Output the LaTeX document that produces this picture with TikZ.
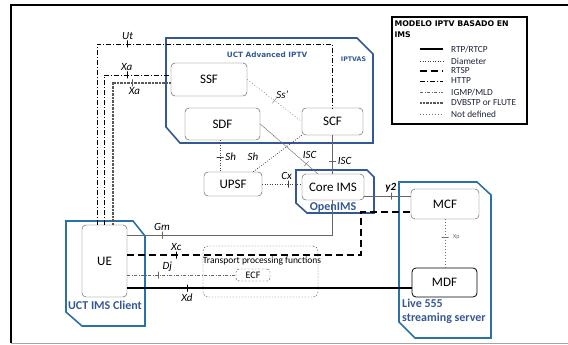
\documentclass[tikz,border=0pt]{standalone}
\usepackage{fontspec}
\setmainfont{Carlito}
\newfontfamily\titulo{DejaVu Sans}
\usetikzlibrary{positioning}

\definecolor{azulims}{RGB}{52,88,150}
\definecolor{textoley}{RGB}{30,35,60}

\begin{document}
\begin{tikzpicture}[x=1pt, y=-1pt,
      caja/.style={draw=black!70, rounded corners=4pt, inner sep=0pt,
                   font=\fontsize{13}{14}\selectfont},
      grupo/.style={draw=azulims, line width=1.6pt, line join=miter},
      rotulo/.style={text=azulims, inner sep=0pt, align=left,
                     font=\fontsize{12}{14}\selectfont\bfseries},
      lab/.style={inner sep=1pt, font=\fontsize{11}{12}\selectfont\itshape},
      marca/.style={draw, solid, thin, inner sep=0pt, minimum width=0pt, minimum height=7pt},
      marcah/.style={draw, solid, thin, inner sep=0pt, minimum width=7pt, minimum height=0pt},
      rtp/.style={line width=1.1pt},
      sip/.style={draw=black!60, semithick},
      diameter/.style={draw=black!75, semithick, dash pattern=on 1pt off 1.5pt},
      rtsp/.style={line width=1.5pt, dash pattern=on 7pt off 4pt},
      http/.style={semithick, dash pattern=on 5pt off 2pt on 1pt off 2pt},
      igmp/.style={draw=black!60, thin, dash pattern=on 3pt off 1.5pt on 1pt off 1.5pt},
      dvbstp/.style={draw=black!65, line width=1.1pt, dash pattern=on .7pt off .7pt},
      nodef/.style={draw=black!55, thin, dash pattern=on 1pt off 2pt}]
    \useasboundingbox (0,0) rectangle (568,345);
    % marco
    \draw[black!35] (11,343) -- (568,343);
    \draw[line width=1.4pt] (11,343) -- (11,5) -- (568,5);

    % leyenda
    \node[draw, line width=1.3pt, minimum width=135pt, minimum height=107pt, inner sep=0pt]
      (leyenda) at (459.5,70.5) {};
    \node[anchor=north west, align=left, inner sep=0pt,
          font=\titulo\bfseries\fontsize{7.8}{11.5}\selectfont]
      (tituloley) at ([xshift=3pt,yshift=-4pt]leyenda.north west) {MODELO IPTV BASADO EN\\IMS};
    \foreach \estilo/\texto/\y in {rtp/{RTP/RTCP}/49, diameter/Diameter/61, rtsp/RTSP/71,
        http/HTTP/81, igmp/{IGMP/MLD}/92, dvbstp/DVBSTP or FLUTE/103, nodef/Not defined/114} {
      \draw[\estilo] (420,\y) -- (443,\y);
      \node[anchor=west, inner sep=0pt, text=textoley, font=\fontsize{9.3}{10}\selectfont]
        (ley\y) at (451,\y) {\texto};
    }

    % grupos
    \draw[grupo] (166,38) -- (357,38) -- (373,54) -- (373,143) -- (180,143) -- (166,127) -- cycle;
    \draw[grupo] (296,170) -- (367,170) -- (374,177) -- (374,213) -- (307,213) -- (296,203) -- cycle;
    \draw[grupo, draw=azulims!85!cyan] (66,221) -- (133,221) -- (145,236) -- (145,326) -- (82,326) -- (66,312) -- cycle;
    \draw[grupo, draw=azulims!85!cyan] (399,182) -- (477,182) -- (491,195) -- (491,338) -- (415,338) -- (399,322) -- cycle;
    \node[rotulo, font=\titulo\bfseries\fontsize{7.3}{8}\selectfont] (iptvtxt) at (267,55) {UCT Advanced IPTV};
    \node[rotulo, font=\titulo\bfseries\fontsize{6.3}{7}\selectfont] (iptvas) at (353.5,59) {IPTVAS};
    \node[rotulo] (openims) at (333,208) {OpenIMS};
    \node[rotulo] (cliente) at (105,305) {UCT IMS Client};
    \node[rotulo, anchor=west] (live) at (402,311) {Live 555\\streaming server};

    % funciones
    \node[caja, minimum width=76pt, minimum height=33pt] (ssf) at (209,79.5) {SSF};
    \node[caja, minimum width=75pt, minimum height=32pt] (sdf) at (222.5,124) {SDF};
    \node[caja, minimum width=61pt, minimum height=27pt] (scf) at (332.5,121.5) {SCF};
    \node[caja, minimum width=58pt, minimum height=24pt] (upsf) at (233,184) {UPSF};
    \node[caja, minimum width=62pt, minimum height=26pt] (core) at (333,187) {Core IMS};
    \node[caja, minimum width=45pt, minimum height=72pt] (ue) at (104.5,261) {UE};
    \node[caja, minimum width=68pt, minimum height=30pt] (mcf) at (445,204) {MCF};
    \node[caja, draw=black, thick, minimum width=65pt, minimum height=29pt] (mdf) at (444.5,282.5) {MDF};
    \node[draw=black!70, dash pattern=on 1.5pt off 1.5pt, rounded corners=5pt,
          minimum width=115pt, minimum height=51pt] (tpf) at (260.5,271.5) {};
    \node[inner sep=0pt, font=\fontsize{9.5}{10}\selectfont] (tpftxt) at (262,261) {Transport processing functions};
    \node[draw=black!70, dash pattern=on 2pt off 1.5pt, rounded corners=3pt, inner sep=0pt,
          minimum width=34pt, minimum height=12pt, font=\fontsize{10}{11}\selectfont] (ecf) at (253,275) {ECF};

    % interfaces del UE
    \coordinate (ut) at (97,44);
    \coordinate (xa1) at (104,75);
    \coordinate (xa2) at (113,83);
    \draw[http] (ue.north -| ut) -- (ut)
      -- node[marca, pos=.13]{} node[lab, pos=.13, above=3pt]{Ut} (scf.north |- ut) -- (scf.north);
    \draw[http] (ue.north -| xa1) -- (xa1)
      -- node[marca, pos=.34]{} node[lab, pos=.34, above=3pt]{Xa} (ssf.west |- xa1);
    \draw[dvbstp] (ue.north -| xa2) -- (xa2)
      -- node[marca, pos=.34]{} node[lab, pos=.37, below=3pt]{Xa} (ssf.west |- xa2);

    \coordinate (gm) at (332,235);
    \coordinate (xc1) at (361,255);
    \coordinate (xc2) at (361,212);
    \coordinate (xd) at (0,288);
    \draw[sip] (ue.east |- gm) -- node[marca, pos=.17]{} node[lab, pos=.17, above=3pt]{Gm} (gm)
      -- (core.south -| gm);
    \draw[rtsp] (ue.east |- xc1) -- node[marca, pos=.21]{} node[lab, pos=.21, above=3pt]{Xc} (xc1)
      -- (xc2) -- (mcf.west |- xc2);
    \draw[igmp] (ue.east |- ecf.west) -- node[marca, pos=.29]{} node[lab, pos=.37, above=2pt]{Dj} (ecf.west);
    \draw[rtp] (ue.east |- xd) -- node[marca, pos=.21]{} node[lab, pos=.21, below=4pt]{Xd} (mdf.west |- xd);

    % interfaces del nucleo
    \coordinate (y2) at (0,196);
    \coordinate (sh) at (220,0);
    \draw[sip] (core.east |- y2) -- node[marca, pos=.57]{}
      node[lab, pos=.57, above=2pt, font=\fontsize{11}{12}\selectfont\bfseries\itshape]{y2} (mcf.west |- y2);
    \draw[diameter] (upsf.east) -- node[marca, pos=.65]{} node[lab, pos=.62, above=3pt]{Cx} (core.west |- upsf.east);
    \draw[diameter] (sdf.south -| sh) -- node[marcah, pos=.53]{} node[lab, pos=.53, right=4pt]{Sh} (upsf.north -| sh);
    \draw[diameter] (scf.south west) -- node[lab, pos=.6, left=13pt]{Sh} ([xshift=-9pt]upsf.north east);
    \draw[sip] (scf.south) -- node[marcah, pos=.67]{} node[lab, pos=.67, right=4pt]{ISC} (scf.south |- core.north);
    \draw[sip, thin] (sdf.east) -- node[marca, sloped, pos=.8]{} node[lab, pos=.72, above right=0pt]{ISC}
      ([xshift=16pt]core.north west);
    \draw[nodef] (ssf.east) -- node[marca, sloped, pos=.5]{} node[lab, pos=.5, above right=1pt]{Ss’} (scf.west);
    \draw[nodef] (mcf.south) -- node[marcah, pos=.37]{}
      node[pos=.37, right=8pt, inner sep=0pt, text=black!60, font=\fontsize{6}{7}\selectfont]{Xp} (mdf.north -| mcf.south);
  \end{tikzpicture}
\end{document}
